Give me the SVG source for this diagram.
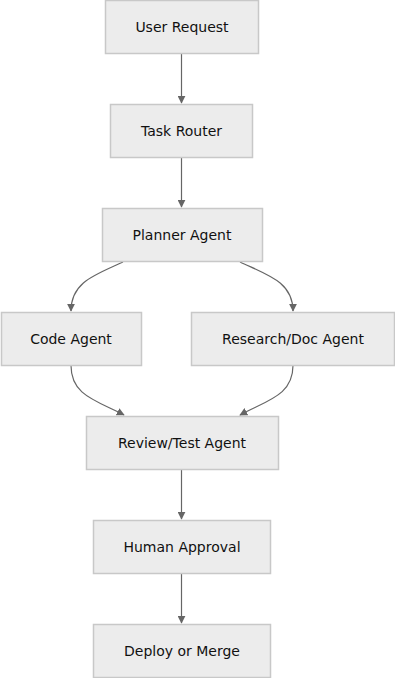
<svg xmlns="http://www.w3.org/2000/svg" width="395" height="678" viewBox="0 0 395 678">
<style>
.n rect{fill:#ececec;stroke:#c8c8c8;stroke-width:1.5}
.n text{font-family:"DejaVu Sans",sans-serif;font-size:14px;fill:#111;text-anchor:middle;dominant-baseline:central}
.e path{fill:none;stroke:#666;stroke-width:1.2;marker-end:url(#a)}
</style>
<defs>
<marker id="a" viewBox="0 0 10 10" refX="9" refY="5" markerWidth="8" markerHeight="8" markerUnits="userSpaceOnUse" orient="auto"><path d="M0,0L10,5L0,10z" fill="#666"/></marker>
</defs>
<rect width="395" height="678" fill="#fff"/>
<g class="e">
<path d="M181.5,53.5V103"/>
<path d="M181.5,157.5V207"/>
<path d="M123,262C95,275 71,282 71,311"/>
<path d="M240,262C268,275 293,282 293,311"/>
<path d="M71,365.5C71,395 95,400 124,415"/>
<path d="M293,365.5C293,395 268,400 240,415"/>
<path d="M181.5,469.5V519"/>
<path d="M181.5,573.5V623"/>
</g>
<g id="n1" class="n"><rect x="105.5" y="0.5" width="153" height="53"/><text x="182" y="27">User Request</text></g>
<g id="n2" class="n"><rect x="110.5" y="104.5" width="142" height="53"/><text x="181.5" y="131">Task Router</text></g>
<g id="n3" class="n"><rect x="102.5" y="208.5" width="160" height="53"/><text x="182" y="235">Planner Agent</text></g>
<g id="n4" class="n"><rect x="1.5" y="312.5" width="140" height="53"/><text x="71" y="339">Code Agent</text></g>
<g id="n5" class="n"><rect x="191.5" y="312.5" width="203" height="53"/><text x="293" y="339">Research/Doc Agent</text></g>
<g id="n6" class="n"><rect x="86.5" y="416.5" width="192" height="53"/><text x="182" y="443">Review/Test Agent</text></g>
<g id="n7" class="n"><rect x="93.5" y="520.5" width="177" height="53"/><text x="182" y="547">Human Approval</text></g>
<g id="n8" class="n"><rect x="93.5" y="624.5" width="177" height="53"/><text x="182" y="651">Deploy or Merge</text></g>
</svg>
